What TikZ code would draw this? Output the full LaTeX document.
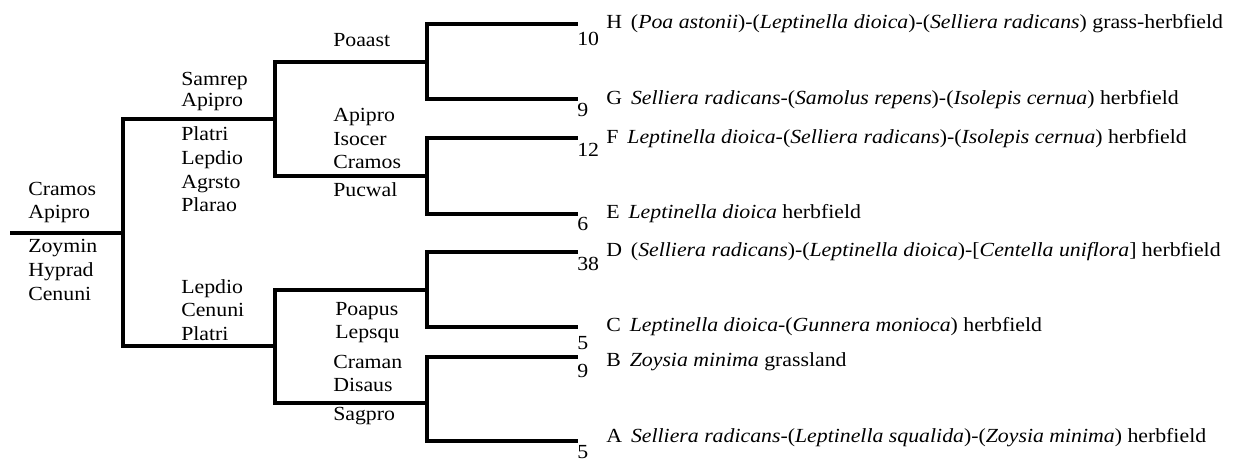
\documentclass[tikz,border=0pt]{standalone}
\usepackage{fontspec}
\setmainfont[FakeStretch=1.09]{Liberation Serif}
\newcommand{\lblfont}{\fontsize{15}{17}\selectfont}
\begin{document}
\begin{tikzpicture}[x=0.75pt,y=-0.75pt,
  branch/.style={line width=2.3pt},
  lab/.style={anchor=base west, inner sep=0pt, font=\lblfont},
  num/.style={anchor=north west, inner sep=0pt, font=\lblfont},
  desc/.style={anchor=base west, inner sep=0pt, font=\lblfont}]
\useasboundingbox (0,0) rectangle (1235,461);
% tree nodes
\coordinate (r0) at (10,233);
\coordinate (R) at (123,233);
\coordinate (U) at (275,119);
\coordinate (L) at (275,346);
\coordinate (UU) at (427,62);
\coordinate (UL) at (427,176);
\coordinate (LU) at (427,290);
\coordinate (LL) at (427,403);
\coordinate (H) at (578,24);
\coordinate (G) at (578,99);
\coordinate (F) at (578,138);
\coordinate (E) at (578,214);
\coordinate (D) at (578,252);
\coordinate (C) at (578,327);
\coordinate (B) at (578,357);
\coordinate (A) at (578,441);
% branches
\draw[branch] (r0) -- (R);
\draw[branch] (R) |- (U);
\draw[branch] (R) |- (L);
\draw[branch] (U) |- (UU);
\draw[branch] (U) |- (UL);
\draw[branch] (L) |- (LU);
\draw[branch] (L) |- (LL);
\draw[branch] (UU) |- (H);
\draw[branch] (UU) |- (G);
\draw[branch] (UL) |- (F);
\draw[branch] (UL) |- (E);
\draw[branch] (LU) |- (D);
\draw[branch] (LU) |- (C);
\draw[branch] (LL) |- (B);
\draw[branch] (LL) |- (A);
% root labels
\node[lab] (r1) at (28,195) {Cramos};
\node[lab] (r2) at (28,218) {Apipro};
\node[lab] (r3) at (28,252) {Zoymin};
\node[lab] (r4) at (28,276) {Hyprad};
\node[lab] (r5) at (28,300) {Cenuni};
% U labels
\node[lab] (u1) at (181,85) {Samrep};
\node[lab] (u2) at (181,106) {Apipro};
\node[lab] (u3) at (181,140) {Platri};
\node[lab] (u4) at (181,164) {Lepdio};
\node[lab] (u5) at (181,188) {Agrsto};
\node[lab] (u6) at (181,211) {Plarao};
% UU labels
\node[lab] (uu1) at (333,46) {Poaast};
% UL labels
\node[lab] (ul1) at (333,121) {Apipro};
\node[lab] (ul2) at (333,145) {Isocer};
\node[lab] (ul3) at (333,168) {Cramos};
\node[lab] (ul4) at (333,196) {Pucwal};
% L labels
\node[lab] (l1) at (181,293) {Lepdio};
\node[lab] (l2) at (181,316) {Cenuni};
\node[lab] (l3) at (181,340) {Platri};
% LU labels
\node[lab] (lu1) at (335,315) {Poapus};
\node[lab] (lu2) at (335,338) {Lepsqu};
% LL labels
\node[lab] (ll1) at (333,368) {Craman};
\node[lab] (ll2) at (333,391) {Disaus};
\node[lab] (ll3) at (333,420) {Sagpro};
% leaf counts
\node[num] (nH) at (577,32) {10};
\node[num] (nG) at (577,103) {9};
\node[num] (nF) at (577,143) {12};
\node[num] (nE) at (577,217) {6};
\node[num] (nD) at (577,257) {38};
\node[num] (nC) at (577,336) {5};
\node[num] (nB) at (577,364) {9};
\node[num] (nA) at (577,445) {5};
% descriptions
\node[desc] (dH) at (606,28) {H\hspace{0.45em}(\textit{Poa astonii})-(\textit{Leptinella dioica})-(\textit{Selliera radicans}) grass-herbfield};
\node[desc] (dG) at (606,104) {G\hspace{0.45em}\textit{Selliera radicans}-(\textit{Samolus repens})-(\textit{Isolepis cernua}) herbfield};
\node[desc] (dF) at (606,143) {F\hspace{0.45em}\textit{Leptinella dioica}-(\textit{Selliera radicans})-(\textit{Isolepis cernua}) herbfield};
\node[desc] (dE) at (606,218) {E\hspace{0.45em}\textit{Leptinella dioica} herbfield};
\node[desc] (dD) at (606,256) {D\hspace{0.45em}(\textit{Selliera radicans})-(\textit{Leptinella dioica})-[\textit{Centella uniflora}] herbfield};
\node[desc] (dC) at (606,331) {C\hspace{0.45em}\textit{Leptinella dioica}-(\textit{Gunnera monioca}) herbfield};
\node[desc] (dB) at (606,366) {B\hspace{0.45em}\textit{Zoysia minima} grassland};
\node[desc] (dA) at (606,442) {A\hspace{0.45em}\textit{Selliera radicans}-(\textit{Leptinella squalida})-(\textit{Zoysia minima}) herbfield};
\end{tikzpicture}
\end{document}
